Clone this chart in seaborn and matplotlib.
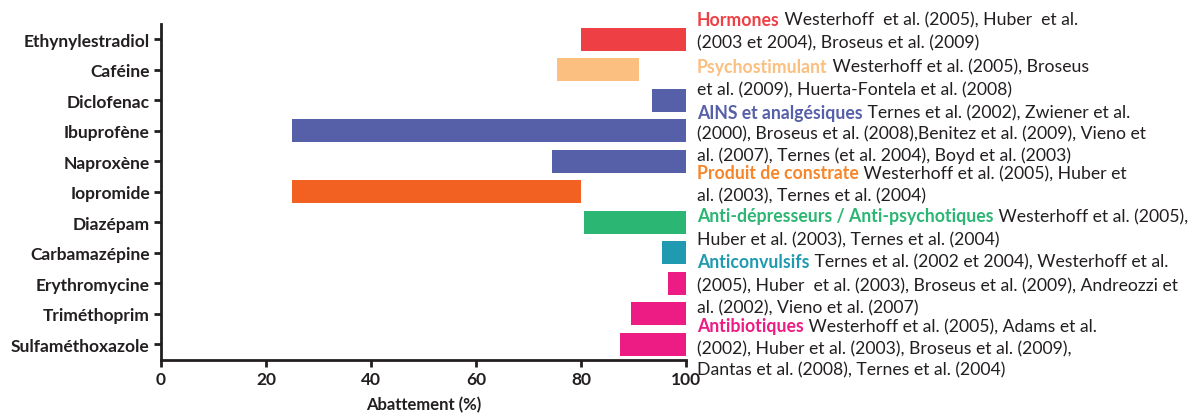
import matplotlib
matplotlib.use("Agg")
import matplotlib.pyplot as plt
import seaborn as sns
import pandas as pd

compounds = ["Ethynylestradiol", "Caféine", "Diclofenac", "Ibuprofène", "Naproxène",
             "Iopromide", "Diazépam", "Carbamazépine", "Erythromycine", "Triméthoprim",
             "Sulfaméthoxazole"]
start = [80, 75.5, 93.5, 25, 74.5, 25, 80.5, 95.5, 96.5, 89.5, 87.5]
end = [100, 91, 100, 100, 100, 80, 100, 100, 100, 100, 100]
bar_colors = ["#EE4044", "#FBBF80", "#5660A8", "#5660A8", "#5660A8", "#F26122",
              "#2BB673", "#1F9AB0", "#ED1C84", "#ED1C84", "#ED1C84"]

x_ticks = [0, 20, 40, 60, 80, 100]
x_label = "Abattement (%)"

# annotation lines: (colored prefix, prefix color, rest)
notes = [
    ("Hormones", "#EE4044", " Westerhoff  et al. (2005), Huber  et al."),
    ("", "#231F20", "(2003 et 2004), Broseus et al. (2009)"),
    ("Psychostimulant", "#FBBF80", " Westerhoff et al. (2005), Broseus"),
    ("", "#231F20", "et al. (2009), Huerta-Fontela et al. (2008)"),
    ("AINS et analgésiques", "#5660A8", " Ternes et al. (2002), Zwiener et al."),
    ("", "#231F20", "(2000), Broseus et al. (2008),Benitez et al. (2009), Vieno et"),
    ("", "#231F20", "al. (2007), Ternes (et al. 2004), Boyd et al. (2003)"),
    ("Produit de constrate", "#F7862A", " Westerhoff et al. (2005), Huber et"),
    ("", "#231F20", "al. (2003), Ternes et al. (2004)"),
    ("Anti-dépresseurs / Anti-psychotiques", "#2BB673", " Westerhoff et al. (2005),"),
    ("", "#231F20", "Huber et al. (2003), Ternes et al. (2004)"),
    ("Anticonvulsifs", "#1F9AB0", " Ternes et al. (2002 et 2004), Westerhoff et al."),
    ("", "#231F20", "(2005), Huber  et al. (2003), Broseus et al. (2009), Andreozzi et"),
    ("", "#231F20", "al. (2002), Vieno et al. (2007)"),
    ("Antibiotiques", "#ED1C84", " Westerhoff et al. (2005), Adams et al."),
    ("", "#231F20", "(2002), Huber et al. (2003), Broseus et al. (2009),"),
    ("", "#231F20", "Dantas et al. (2008), Ternes et al. (2004)"),
]
note_y_px = [20, 43, 67, 90, 113, 134, 156, 174, 196, 217, 240, 262, 286, 308, 327, 349, 370]

sns.set_theme(style="white")
plt.rcParams["font.family"] = ["Lato", "DejaVu Sans"]

dark = "#231F20"
W, H = 1200, 414
fig = plt.figure(figsize=(12, 4.14), dpi=100)
ax = fig.add_axes([161 / W, 1 - 361 / H, (686 - 161) / W, (361 - 25) / H])

df = pd.DataFrame({"compound": compounds, "end": end, "start": start})
sns.barplot(data=df, x="end", y="compound", hue="compound", palette=bar_colors,
            orient="h", width=0.75, legend=False, ax=ax, saturation=1)
for patch, s, e in zip(ax.patches, start, end):
    patch.set_x(s)
    patch.set_width(e - s)
    patch.set_linewidth(0)

ax.set_xlim(0, 100)
ax.set_ylim(10.52, -0.5)
ax.set_xticks(x_ticks)
ax.set_xticklabels([str(t) for t in x_ticks], fontweight="bold", fontsize=12.5, color=dark)
ax.set_yticks(range(len(compounds)))
ax.set_yticklabels(compounds, fontweight="bold", fontsize=12.5, color=dark)
ax.set_ylabel("")
ax.set_xlabel(x_label, fontweight="bold", fontsize=12, color=dark, labelpad=6.5)
for side in ["top", "right"]:
    ax.spines[side].set_visible(False)
for side in ["left", "bottom"]:
    ax.spines[side].set_linewidth(2)
    ax.spines[side].set_color(dark)
ax.tick_params(axis="both", which="both", direction="out", length=5, width=2,
               color=dark, left=True, bottom=True, pad=3)

fig.canvas.draw()
renderer = fig.canvas.get_renderer()
x0 = 697 / W
for (pre, col, rest), ypx in zip(notes, note_y_px):
    y = 1 - ypx / H
    x = x0
    if pre:
        t = fig.text(x, y, pre, color=col, fontweight="bold", fontsize=12.7, va="center", ha="left")
        bb = t.get_window_extent(renderer)
        x = bb.x1 / W
    fig.text(x, y, rest, color=dark, fontsize=12.7, va="center", ha="left")

fig.savefig("out.png", dpi=100)
